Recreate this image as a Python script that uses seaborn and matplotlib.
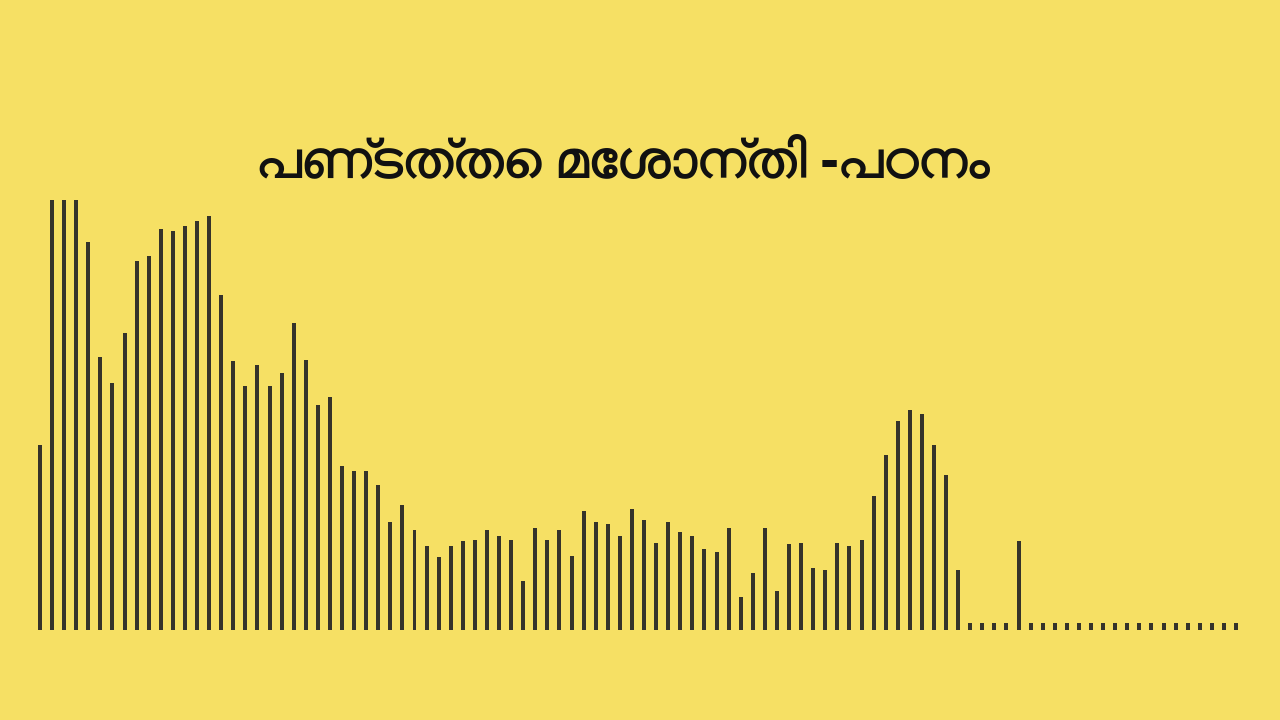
import matplotlib
matplotlib.use("Agg")
import matplotlib.pyplot as plt
from matplotlib import font_manager
from matplotlib.ft2font import FT2Font
import seaborn as sns
import pandas as pd

title = "പണ്ടത്തെ മേശാന്തി -പഠനം"

heights = [
    185, 430, 430, 430, 388, 273, 247, 297, 369, 374, 401, 399, 404, 409, 414,
    335, 269, 244, 265, 244, 257, 307, 270, 225, 233, 164,
    159, 159, 145, 108, 125, 100, 84, 73, 84, 89, 90, 100, 94, 90, 49, 102, 90,
    100, 74, 119, 108, 106, 94, 121, 110,
    87, 108, 98, 94, 81, 78, 102, 33, 57, 102, 39, 86, 87, 62, 60, 87, 84, 90,
    134, 175, 209, 220, 216, 185, 155, 60,
    7, 7, 7, 7,
    89,
    7, 7, 7, 7, 7, 7, 7, 7, 7, 7, 7, 7, 7, 7, 7, 7, 7, 7,
]
positions = list(range(len(heights)))

bg = "#F6E064"
bar_color = "#35332A"

# find a font with Malayalam glyphs if any is installed
mal_family = None
for f in font_manager.fontManager.ttflist:
    try:
        cm = FT2Font(f.fname).get_charmap()
        if ord("പ") in cm and ord("ണ") in cm:
            mal_family = f.name
            if "bold" in f.fname.lower() or f.weight in ("bold", 700):
                break
    except Exception:
        pass

sns.set_theme(style="white")
families = ([mal_family] if mal_family else []) + ["Noto Sans", "DejaVu Sans"]
plt.rcParams["font.family"] = families

fig = plt.figure(figsize=(12.8, 7.2), dpi=100, facecolor=bg)
ax = fig.add_axes([0, 0, 1, 1])
ax.set_facecolor(bg)

df = pd.DataFrame({"pos": positions, "h": heights})
sns.barplot(data=df, x="pos", y="h", color=bar_color, saturation=1,
            width=0.33, linewidth=0, ax=ax)

ax.set_xlim(-3.31, 102.64)
ax.set_ylim(-90, 630)
ax.axis("off")

fig.text(0.487, 1 - 164 / 720, title, ha="center", va="center",
         fontsize=38, fontweight="bold", color="#111111")

fig.savefig("out.png", dpi=100, facecolor=bg)
